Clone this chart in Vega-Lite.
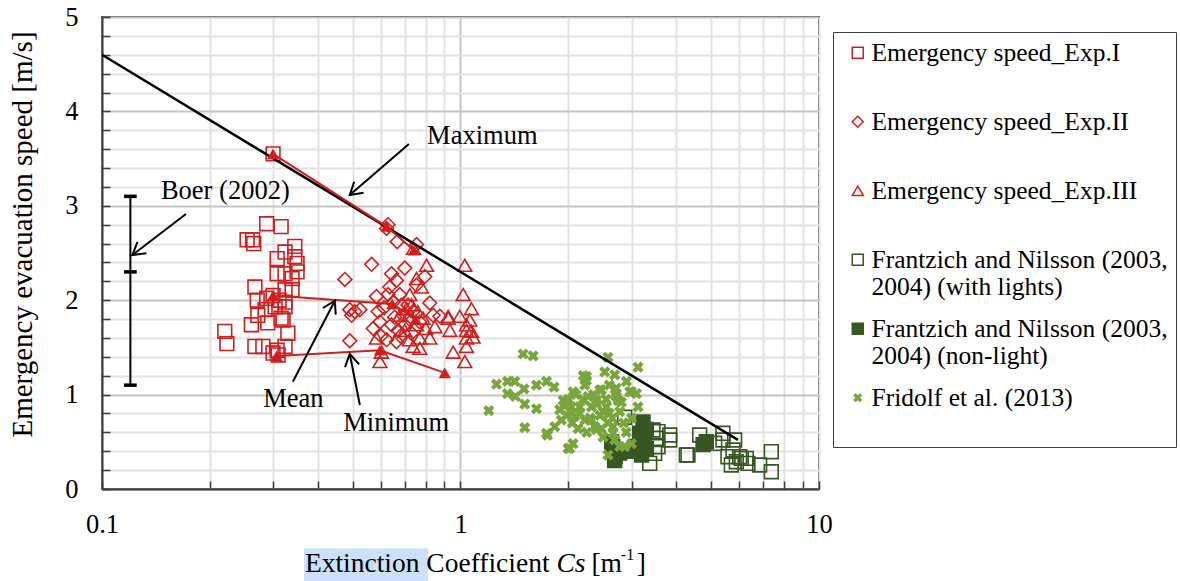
{
  "$schema": "https://vega.github.io/schema/vega-lite/v6.json",
  "width": 717,
  "height": 472,
  "autosize": {"type": "none"},
  "padding": {"left": 102, "top": 17, "right": 361, "bottom": 92},
  "background": "white",
  "config": {
    "font": "Liberation Serif",
    "view": {"stroke": "#3c3c3c", "strokeWidth": 2},
    "text": {"font": "Liberation Serif", "color": "black"}
  },
  "datasets": {
    "obs": [
      {"series": "Emergency speed_Exp.I", "cs": 0.288, "v": 2.81},
      {"series": "Emergency speed_Exp.I", "cs": 0.316, "v": 2.78},
      {"series": "Emergency speed_Exp.I", "cs": 0.254, "v": 2.64},
      {"series": "Emergency speed_Exp.I", "cs": 0.263, "v": 2.64},
      {"series": "Emergency speed_Exp.I", "cs": 0.265, "v": 2.60},
      {"series": "Emergency speed_Exp.I", "cs": 0.345, "v": 2.57},
      {"series": "Emergency speed_Exp.I", "cs": 0.324, "v": 2.51},
      {"series": "Emergency speed_Exp.I", "cs": 0.345, "v": 2.46},
      {"series": "Emergency speed_Exp.I", "cs": 0.308, "v": 2.44},
      {"series": "Emergency speed_Exp.I", "cs": 0.350, "v": 2.39},
      {"series": "Emergency speed_Exp.I", "cs": 0.350, "v": 2.30},
      {"series": "Emergency speed_Exp.I", "cs": 0.308, "v": 2.28},
      {"series": "Emergency speed_Exp.I", "cs": 0.324, "v": 2.28},
      {"series": "Emergency speed_Exp.I", "cs": 0.339, "v": 2.23},
      {"series": "Emergency speed_Exp.I", "cs": 0.267, "v": 2.14},
      {"series": "Emergency speed_Exp.I", "cs": 0.339, "v": 2.11},
      {"series": "Emergency speed_Exp.I", "cs": 0.324, "v": 2.11},
      {"series": "Emergency speed_Exp.I", "cs": 0.271, "v": 2.00},
      {"series": "Emergency speed_Exp.I", "cs": 0.288, "v": 2.02},
      {"series": "Emergency speed_Exp.I", "cs": 0.324, "v": 1.98},
      {"series": "Emergency speed_Exp.I", "cs": 0.304, "v": 1.93},
      {"series": "Emergency speed_Exp.I", "cs": 0.324, "v": 1.93},
      {"series": "Emergency speed_Exp.I", "cs": 0.285, "v": 1.90},
      {"series": "Emergency speed_Exp.I", "cs": 0.272, "v": 1.84},
      {"series": "Emergency speed_Exp.I", "cs": 0.316, "v": 1.81},
      {"series": "Emergency speed_Exp.I", "cs": 0.320, "v": 1.79},
      {"series": "Emergency speed_Exp.I", "cs": 0.290, "v": 1.76},
      {"series": "Emergency speed_Exp.I", "cs": 0.261, "v": 1.74},
      {"series": "Emergency speed_Exp.I", "cs": 0.220, "v": 1.67},
      {"series": "Emergency speed_Exp.I", "cs": 0.223, "v": 1.54},
      {"series": "Emergency speed_Exp.I", "cs": 0.330, "v": 1.65},
      {"series": "Emergency speed_Exp.I", "cs": 0.267, "v": 1.51},
      {"series": "Emergency speed_Exp.I", "cs": 0.281, "v": 1.51},
      {"series": "Emergency speed_Exp.I", "cs": 0.308, "v": 1.47},
      {"series": "Emergency speed_Exp.I", "cs": 0.324, "v": 1.51},
      {"series": "Emergency speed_Exp.I", "cs": 0.300, "v": 3.55},
      {"series": "Emergency speed_Exp.I", "cs": 0.310, "v": 1.42},
      {"series": "Emergency speed_Exp.I", "cs": 0.300, "v": 1.44},
      {"series": "Emergency speed_Exp.I", "cs": 0.300, "v": 2.05},
      {"series": "Emergency speed_Exp.I", "cs": 0.312, "v": 2.00},
      {"series": "Emergency speed_Exp.II", "cs": 0.628, "v": 2.80},
      {"series": "Emergency speed_Exp.II", "cs": 0.622, "v": 2.76},
      {"series": "Emergency speed_Exp.II", "cs": 0.666, "v": 2.62},
      {"series": "Emergency speed_Exp.II", "cs": 0.754, "v": 2.59},
      {"series": "Emergency speed_Exp.II", "cs": 0.565, "v": 2.38},
      {"series": "Emergency speed_Exp.II", "cs": 0.476, "v": 2.22},
      {"series": "Emergency speed_Exp.II", "cs": 0.642, "v": 2.28},
      {"series": "Emergency speed_Exp.II", "cs": 0.699, "v": 2.34},
      {"series": "Emergency speed_Exp.II", "cs": 0.663, "v": 2.21},
      {"series": "Emergency speed_Exp.II", "cs": 0.635, "v": 2.14},
      {"series": "Emergency speed_Exp.II", "cs": 0.795, "v": 2.25},
      {"series": "Emergency speed_Exp.II", "cs": 0.754, "v": 2.16},
      {"series": "Emergency speed_Exp.II", "cs": 0.677, "v": 2.06},
      {"series": "Emergency speed_Exp.II", "cs": 0.583, "v": 2.04},
      {"series": "Emergency speed_Exp.II", "cs": 0.628, "v": 2.06},
      {"series": "Emergency speed_Exp.II", "cs": 0.491, "v": 1.90},
      {"series": "Emergency speed_Exp.II", "cs": 0.507, "v": 1.88},
      {"series": "Emergency speed_Exp.II", "cs": 0.524, "v": 1.90},
      {"series": "Emergency speed_Exp.II", "cs": 0.497, "v": 1.84},
      {"series": "Emergency speed_Exp.II", "cs": 0.821, "v": 1.97},
      {"series": "Emergency speed_Exp.II", "cs": 0.589, "v": 1.88},
      {"series": "Emergency speed_Exp.II", "cs": 0.571, "v": 1.70},
      {"series": "Emergency speed_Exp.II", "cs": 0.642, "v": 1.74},
      {"series": "Emergency speed_Exp.II", "cs": 0.670, "v": 1.68},
      {"series": "Emergency speed_Exp.II", "cs": 0.491, "v": 1.57},
      {"series": "Emergency speed_Exp.II", "cs": 0.622, "v": 1.58},
      {"series": "Emergency speed_Exp.II", "cs": 0.663, "v": 1.56},
      {"series": "Emergency speed_Exp.II", "cs": 0.596, "v": 1.77},
      {"series": "Emergency speed_Exp.II", "cs": 0.692, "v": 1.84},
      {"series": "Emergency speed_Exp.II", "cs": 0.738, "v": 1.88},
      {"series": "Emergency speed_Exp.II", "cs": 0.770, "v": 1.77},
      {"series": "Emergency speed_Exp.II", "cs": 0.699, "v": 1.74},
      {"series": "Emergency speed_Exp.II", "cs": 0.730, "v": 1.65},
      {"series": "Emergency speed_Exp.II", "cs": 0.649, "v": 1.98},
      {"series": "Emergency speed_Exp.II", "cs": 0.714, "v": 1.95},
      {"series": "Emergency speed_Exp.II", "cs": 0.839, "v": 1.84},
      {"series": "Emergency speed_Exp.II", "cs": 0.876, "v": 1.83},
      {"series": "Emergency speed_Exp.II", "cs": 0.612, "v": 1.92},
      {"series": "Emergency speed_Exp.II", "cs": 0.655, "v": 1.82},
      {"series": "Emergency speed_Exp.II", "cs": 0.685, "v": 1.95},
      {"series": "Emergency speed_Exp.II", "cs": 0.720, "v": 1.80},
      {"series": "Emergency speed_Exp.II", "cs": 0.600, "v": 1.62},
      {"series": "Emergency speed_Exp.II", "cs": 0.680, "v": 1.62},
      {"series": "Emergency speed_Exp.III", "cs": 0.804, "v": 2.37},
      {"series": "Emergency speed_Exp.III", "cs": 1.028, "v": 2.37},
      {"series": "Emergency speed_Exp.III", "cs": 0.754, "v": 2.23},
      {"series": "Emergency speed_Exp.III", "cs": 0.778, "v": 2.14},
      {"series": "Emergency speed_Exp.III", "cs": 0.722, "v": 2.06},
      {"series": "Emergency speed_Exp.III", "cs": 1.017, "v": 2.06},
      {"series": "Emergency speed_Exp.III", "cs": 1.073, "v": 1.91},
      {"series": "Emergency speed_Exp.III", "cs": 0.924, "v": 1.83},
      {"series": "Emergency speed_Exp.III", "cs": 0.995, "v": 1.83},
      {"series": "Emergency speed_Exp.III", "cs": 1.039, "v": 1.74},
      {"series": "Emergency speed_Exp.III", "cs": 1.073, "v": 1.67},
      {"series": "Emergency speed_Exp.III", "cs": 0.934, "v": 1.68},
      {"series": "Emergency speed_Exp.III", "cs": 1.039, "v": 1.60},
      {"series": "Emergency speed_Exp.III", "cs": 0.848, "v": 1.72},
      {"series": "Emergency speed_Exp.III", "cs": 0.770, "v": 1.60},
      {"series": "Emergency speed_Exp.III", "cs": 0.821, "v": 1.60},
      {"series": "Emergency speed_Exp.III", "cs": 0.738, "v": 1.51},
      {"series": "Emergency speed_Exp.III", "cs": 0.770, "v": 1.49},
      {"series": "Emergency speed_Exp.III", "cs": 0.583, "v": 1.60},
      {"series": "Emergency speed_Exp.III", "cs": 0.602, "v": 1.45},
      {"series": "Emergency speed_Exp.III", "cs": 0.596, "v": 1.35},
      {"series": "Emergency speed_Exp.III", "cs": 0.954, "v": 1.45},
      {"series": "Emergency speed_Exp.III", "cs": 1.028, "v": 1.35},
      {"series": "Emergency speed_Exp.III", "cs": 1.039, "v": 1.51},
      {"series": "Emergency speed_Exp.III", "cs": 0.699, "v": 1.68},
      {"series": "Emergency speed_Exp.III", "cs": 0.677, "v": 1.84},
      {"series": "Emergency speed_Exp.III", "cs": 0.707, "v": 1.91},
      {"series": "Emergency speed_Exp.III", "cs": 0.786, "v": 1.81},
      {"series": "Emergency speed_Exp.III", "cs": 0.754, "v": 1.74},
      {"series": "Emergency speed_Exp.III", "cs": 1.061, "v": 1.79},
      {"series": "Emergency speed_Exp.III", "cs": 1.084, "v": 1.61},
      {"series": "Emergency speed_Exp.III", "cs": 1.039, "v": 1.68},
      {"series": "Emergency speed_Exp.III", "cs": 0.924, "v": 1.81},
      {"series": "Emergency speed_Exp.III", "cs": 0.740, "v": 2.55},
      {"series": "Emergency speed_Exp.III", "cs": 0.730, "v": 1.95},
      {"series": "Emergency speed_Exp.III", "cs": 0.760, "v": 1.88},
      {"series": "Emergency speed_Exp.III", "cs": 0.800, "v": 1.70},
      {"series": "Emergency speed_Exp.III", "cs": 0.720, "v": 1.58},
      {"series": "Frantzich and Nilsson (2003,|2004) (with lights)", "cs": 2.871, "v": 0.76},
      {"series": "Frantzich and Nilsson (2003,|2004) (with lights)", "cs": 3.443, "v": 0.625},
      {"series": "Frantzich and Nilsson (2003,|2004) (with lights)", "cs": 3.555, "v": 0.607},
      {"series": "Frantzich and Nilsson (2003,|2004) (with lights)", "cs": 3.833, "v": 0.572},
      {"series": "Frantzich and Nilsson (2003,|2004) (with lights)", "cs": 3.833, "v": 0.519},
      {"series": "Frantzich and Nilsson (2003,|2004) (with lights)", "cs": 3.555, "v": 0.448},
      {"series": "Frantzich and Nilsson (2003,|2004) (with lights)", "cs": 3.480, "v": 0.378},
      {"series": "Frantzich and Nilsson (2003,|2004) (with lights)", "cs": 3.371, "v": 0.272},
      {"series": "Frantzich and Nilsson (2003,|2004) (with lights)", "cs": 4.310, "v": 0.360},
      {"series": "Frantzich and Nilsson (2003,|2004) (with lights)", "cs": 4.647, "v": 0.572},
      {"series": "Frantzich and Nilsson (2003,|2004) (with lights)", "cs": 5.396, "v": 0.590},
      {"series": "Frantzich and Nilsson (2003,|2004) (with lights)", "cs": 5.396, "v": 0.519},
      {"series": "Frantzich and Nilsson (2003,|2004) (with lights)", "cs": 5.817, "v": 0.519},
      {"series": "Frantzich and Nilsson (2003,|2004) (with lights)", "cs": 5.117, "v": 0.484},
      {"series": "Frantzich and Nilsson (2003,|2004) (with lights)", "cs": 5.754, "v": 0.413},
      {"series": "Frantzich and Nilsson (2003,|2004) (with lights)", "cs": 6.006, "v": 0.342},
      {"series": "Frantzich and Nilsson (2003,|2004) (with lights)", "cs": 6.270, "v": 0.325},
      {"series": "Frantzich and Nilsson (2003,|2004) (with lights)", "cs": 5.880, "v": 0.289},
      {"series": "Frantzich and Nilsson (2003,|2004) (with lights)", "cs": 5.695, "v": 0.254},
      {"series": "Frantzich and Nilsson (2003,|2004) (with lights)", "cs": 6.830, "v": 0.254},
      {"series": "Frantzich and Nilsson (2003,|2004) (with lights)", "cs": 7.362, "v": 0.395},
      {"series": "Frantzich and Nilsson (2003,|2004) (with lights)", "cs": 7.362, "v": 0.183},
      {"series": "Frantzich and Nilsson (2003,|2004) (with lights)", "cs": 6.335, "v": 0.272},
      {"series": "Frantzich and Nilsson (2003,|2004) (with lights)", "cs": 5.572, "v": 0.342},
      {"series": "Frantzich and Nilsson (2003,|2004) (with lights)", "cs": 3.519, "v": 0.537},
      {"series": "Frantzich and Nilsson (2003,|2004) (with lights)", "cs": 6.072, "v": 0.325},
      {"series": "Frantzich and Nilsson (2003,|2004) (with lights)", "cs": 4.266, "v": 0.360},
      {"series": "Frantzich and Nilsson (2003,|2004) (non-light)", "cs": 2.66, "v": 0.45},
      {"series": "Frantzich and Nilsson (2003,|2004) (non-light)", "cs": 2.70, "v": 0.34},
      {"series": "Frantzich and Nilsson (2003,|2004) (non-light)", "cs": 2.78, "v": 0.38},
      {"series": "Frantzich and Nilsson (2003,|2004) (non-light)", "cs": 2.64, "v": 0.50},
      {"series": "Frantzich and Nilsson (2003,|2004) (non-light)", "cs": 3.16, "v": 0.59},
      {"series": "Frantzich and Nilsson (2003,|2004) (non-light)", "cs": 3.23, "v": 0.71},
      {"series": "Frantzich and Nilsson (2003,|2004) (non-light)", "cs": 3.30, "v": 0.63},
      {"series": "Frantzich and Nilsson (2003,|2004) (non-light)", "cs": 3.23, "v": 0.52},
      {"series": "Frantzich and Nilsson (2003,|2004) (non-light)", "cs": 3.30, "v": 0.43},
      {"series": "Frantzich and Nilsson (2003,|2004) (non-light)", "cs": 3.10, "v": 0.45},
      {"series": "Frantzich and Nilsson (2003,|2004) (non-light)", "cs": 3.20, "v": 0.36},
      {"series": "Frantzich and Nilsson (2003,|2004) (non-light)", "cs": 4.85, "v": 0.50},
      {"series": "Frantzich and Nilsson (2003,|2004) (non-light)", "cs": 4.75, "v": 0.47},
      {"series": "Frantzich and Nilsson (2003,|2004) (non-light)", "cs": 2.69, "v": 0.30},
      {"series": "Frantzich and Nilsson (2003,|2004) (non-light)", "cs": 2.90, "v": 0.40},
      {"series": "Fridolf et al. (2013)", "cs": 1.495, "v": 1.43},
      {"series": "Fridolf et al. (2013)", "cs": 1.594, "v": 1.41},
      {"series": "Fridolf et al. (2013)", "cs": 1.260, "v": 1.11},
      {"series": "Fridolf et al. (2013)", "cs": 1.352, "v": 1.14},
      {"series": "Fridolf et al. (2013)", "cs": 1.417, "v": 1.14},
      {"series": "Fridolf et al. (2013)", "cs": 1.504, "v": 1.06},
      {"series": "Fridolf et al. (2013)", "cs": 1.352, "v": 1.01},
      {"series": "Fridolf et al. (2013)", "cs": 1.423, "v": 0.98},
      {"series": "Fridolf et al. (2013)", "cs": 1.629, "v": 1.10},
      {"series": "Fridolf et al. (2013)", "cs": 1.737, "v": 1.14},
      {"series": "Fridolf et al. (2013)", "cs": 1.824, "v": 1.08},
      {"series": "Fridolf et al. (2013)", "cs": 1.511, "v": 0.90},
      {"series": "Fridolf et al. (2013)", "cs": 1.629, "v": 0.85},
      {"series": "Fridolf et al. (2013)", "cs": 1.199, "v": 0.83},
      {"series": "Fridolf et al. (2013)", "cs": 1.511, "v": 0.65},
      {"series": "Fridolf et al. (2013)", "cs": 1.748, "v": 0.57},
      {"series": "Fridolf et al. (2013)", "cs": 2.017, "v": 0.43},
      {"series": "Fridolf et al. (2013)", "cs": 2.060, "v": 1.03},
      {"series": "Fridolf et al. (2013)", "cs": 1.932, "v": 0.94},
      {"series": "Fridolf et al. (2013)", "cs": 1.891, "v": 0.84},
      {"series": "Fridolf et al. (2013)", "cs": 1.912, "v": 0.73},
      {"series": "Fridolf et al. (2013)", "cs": 2.039, "v": 0.87},
      {"series": "Fridolf et al. (2013)", "cs": 2.083, "v": 0.77},
      {"series": "Fridolf et al. (2013)", "cs": 1.832, "v": 0.66},
      {"series": "Fridolf et al. (2013)", "cs": 2.246, "v": 1.15},
      {"series": "Fridolf et al. (2013)", "cs": 2.269, "v": 0.98},
      {"series": "Fridolf et al. (2013)", "cs": 2.319, "v": 0.87},
      {"series": "Fridolf et al. (2013)", "cs": 2.472, "v": 1.05},
      {"series": "Fridolf et al. (2013)", "cs": 2.525, "v": 1.24},
      {"series": "Fridolf et al. (2013)", "cs": 2.222, "v": 0.73},
      {"series": "Fridolf et al. (2013)", "cs": 2.368, "v": 0.66},
      {"series": "Fridolf et al. (2013)", "cs": 2.497, "v": 0.82},
      {"series": "Fridolf et al. (2013)", "cs": 2.127, "v": 0.64},
      {"series": "Fridolf et al. (2013)", "cs": 2.579, "v": 0.70},
      {"series": "Fridolf et al. (2013)", "cs": 2.579, "v": 1.395},
      {"series": "Fridolf et al. (2013)", "cs": 2.693, "v": 1.21},
      {"series": "Fridolf et al. (2013)", "cs": 3.127, "v": 1.29},
      {"series": "Fridolf et al. (2013)", "cs": 2.903, "v": 1.14},
      {"series": "Fridolf et al. (2013)", "cs": 2.965, "v": 1.03},
      {"series": "Fridolf et al. (2013)", "cs": 3.095, "v": 1.01},
      {"series": "Fridolf et al. (2013)", "cs": 2.445, "v": 1.05},
      {"series": "Fridolf et al. (2013)", "cs": 2.246, "v": 1.19},
      {"series": "Fridolf et al. (2013)", "cs": 2.222, "v": 1.10},
      {"series": "Fridolf et al. (2013)", "cs": 2.394, "v": 0.94},
      {"series": "Fridolf et al. (2013)", "cs": 2.553, "v": 0.87},
      {"series": "Fridolf et al. (2013)", "cs": 2.722, "v": 0.98},
      {"series": "Fridolf et al. (2013)", "cs": 2.811, "v": 0.92},
      {"series": "Fridolf et al. (2013)", "cs": 1.975, "v": 0.92},
      {"series": "Fridolf et al. (2013)", "cs": 2.039, "v": 0.80},
      {"series": "Fridolf et al. (2013)", "cs": 2.150, "v": 0.87},
      {"series": "Fridolf et al. (2013)", "cs": 2.319, "v": 0.73},
      {"series": "Fridolf et al. (2013)", "cs": 2.394, "v": 0.63},
      {"series": "Fridolf et al. (2013)", "cs": 2.663, "v": 0.59},
      {"series": "Fridolf et al. (2013)", "cs": 1.737, "v": 0.59},
      {"series": "Fridolf et al. (2013)", "cs": 2.060, "v": 0.48},
      {"series": "Fridolf et al. (2013)", "cs": 1.995, "v": 0.43},
      {"series": "Fridolf et al. (2013)", "cs": 2.579, "v": 0.36},
      {"series": "Fridolf et al. (2013)", "cs": 2.780, "v": 0.45},
      {"series": "Fridolf et al. (2013)", "cs": 2.998, "v": 0.48},
      {"series": "Fridolf et al. (2013)", "cs": 2.722, "v": 1.07},
      {"series": "Fridolf et al. (2013)", "cs": 2.998, "v": 1.03},
      {"series": "Fridolf et al. (2013)", "cs": 3.127, "v": 0.87},
      {"series": "Fridolf et al. (2013)", "cs": 2.750, "v": 0.94},
      {"series": "Fridolf et al. (2013)", "cs": 2.780, "v": 0.82},
      {"series": "Fridolf et al. (2013)", "cs": 2.472, "v": 0.64},
      {"series": "Fridolf et al. (2013)", "cs": 2.663, "v": 0.66},
      {"series": "Fridolf et al. (2013)", "cs": 2.693, "v": 0.52},
      {"series": "Fridolf et al. (2013)", "cs": 2.871, "v": 0.45},
      {"series": "Fridolf et al. (2013)", "cs": 2.10, "v": 1.00},
      {"series": "Fridolf et al. (2013)", "cs": 2.20, "v": 0.95},
      {"series": "Fridolf et al. (2013)", "cs": 2.15, "v": 0.80},
      {"series": "Fridolf et al. (2013)", "cs": 2.30, "v": 0.75},
      {"series": "Fridolf et al. (2013)", "cs": 2.40, "v": 0.90},
      {"series": "Fridolf et al. (2013)", "cs": 2.45, "v": 0.78},
      {"series": "Fridolf et al. (2013)", "cs": 2.60, "v": 0.80},
      {"series": "Fridolf et al. (2013)", "cs": 2.35, "v": 1.00},
      {"series": "Fridolf et al. (2013)", "cs": 1.95, "v": 0.88},
      {"series": "Fridolf et al. (2013)", "cs": 2.00, "v": 0.95},
      {"series": "Fridolf et al. (2013)", "cs": 2.25, "v": 0.60},
      {"series": "Fridolf et al. (2013)", "cs": 2.50, "v": 0.55},
      {"series": "Fridolf et al. (2013)", "cs": 2.85, "v": 0.70},
      {"series": "Fridolf et al. (2013)", "cs": 2.90, "v": 0.60},
      {"series": "Fridolf et al. (2013)", "cs": 3.00, "v": 0.75},
      {"series": "Fridolf et al. (2013)", "cs": 2.20, "v": 1.20},
      {"series": "Fridolf et al. (2013)", "cs": 2.60, "v": 1.10},
      {"series": "Fridolf et al. (2013)", "cs": 2.70, "v": 1.00},
      {"series": "Fridolf et al. (2013)", "cs": 2.05, "v": 0.70},
      {"series": "Fridolf et al. (2013)", "cs": 1.98, "v": 0.78},
      {"series": "Fridolf et al. (2013)", "cs": 2.55, "v": 0.95},
      {"series": "Fridolf et al. (2013)", "cs": 2.65, "v": 0.75}
    ],
    "trend": [
      {"cs": 0.1, "v": 4.6},
      {"cs": 5.94, "v": 0.52}
    ],
    "summary": [
      {"stat": "Maximum", "cs": 0.300, "v": 3.55},
      {"stat": "Maximum", "cs": 0.622, "v": 2.78},
      {"stat": "Maximum", "cs": 0.741, "v": 2.53},
      {"stat": "Mean", "cs": 0.300, "v": 2.05},
      {"stat": "Mean", "cs": 0.645, "v": 1.96},
      {"stat": "Mean", "cs": 0.750, "v": 1.80},
      {"stat": "Minimum", "cs": 0.307, "v": 1.41},
      {"stat": "Minimum", "cs": 0.596, "v": 1.47},
      {"stat": "Minimum", "cs": 0.904, "v": 1.23}
    ],
    "boer": [
      {"stat": "Maximum", "cs": 0.12, "v": 3.1},
      {"stat": "Mean", "cs": 0.12, "v": 2.3},
      {"stat": "Minimum", "cs": 0.12, "v": 1.1}
    ],
    "arrows": [
      {"name": "Maximum", "cs": 0.718, "v": 3.655, "cs2": 0.491, "v2": 3.114},
      {"name": "Boer (2002)", "cs": 0.1715, "v": 2.913, "cs2": 0.1216, "v2": 2.479},
      {"name": "Mean", "cs": 0.3407, "v": 1.137, "cs2": 0.4462, "v2": 1.995},
      {"name": "Minimum", "cs": 0.5239, "v": 0.89, "cs2": 0.491, "v2": 1.43}
    ],
    "notes": [
      {"name": "Maximum", "cs": 0.807, "v": 3.74},
      {"name": "Boer (2002)", "cs": 0.146, "v": 3.157},
      {"name": "Mean", "cs": 0.2817, "v": 0.953},
      {"name": "Minimum", "cs": 0.4708, "v": 0.696}
    ]
  },
  "layer": [
    {
      "data": {"name": "obs"},
      "mark": {"type": "point", "size": 190, "strokeWidth": 1.6, "opacity": 1},
      "encoding": {
        "x": {
          "field": "cs",
          "type": "quantitative",
          "scale": {"type": "log", "domain": [0.1, 10], "nice": false},
          "axis": {
            "title": null,
            "values": [0.1, 0.2, 0.3, 0.4, 0.5, 0.6, 0.7, 0.8, 0.9, 1, 2, 3, 4, 5, 6, 7, 8, 9, 10],
            "tickCount": 100,
            "format": "~g",
            "labelExpr": "datum.value == 0.1 || datum.value == 1 || datum.value == 10 ? datum.label : ''",
            "labelOverlap": false,
            "labelFlush": false,
            "labelFont": "Liberation Serif",
            "labelFontSize": 26.5,
            "labelColor": "black",
            "labelBaseline": "top",
            "labelPadding": 30.5,
            "tickSize": -8,
            "tickColor": "#3c3c3c",
            "tickWidth": 1.5,
            "domainColor": "#3c3c3c",
            "domainWidth": 2,
            "grid": true,
            "gridColor": {"condition": {"test": "datum.value == 1", "value": "#c4c4c4"}, "value": "#e2e2e2"},
            "gridWidth": 2
          }
        },
        "y": {
          "field": "v",
          "type": "quantitative",
          "scale": {"domain": [0, 5], "nice": false, "zero": false},
          "axis": {
            "title": "Emergency evacuation speed [m/s]",
            "titleFont": "Liberation Serif",
            "titleFontSize": 29,
            "titleFontWeight": "normal",
            "titleColor": "black",
            "titleAngle": -90,
            "titleAlign": "center",
            "titleBaseline": "middle",
            "titleX": -80,
            "titleY": 217,
            "values": [0, 0.2, 0.4, 0.6, 0.8, 1, 1.2, 1.4, 1.6, 1.8, 2, 2.2, 2.4, 2.6, 2.8, 3, 3.2, 3.4, 3.6, 3.8, 4, 4.2, 4.4, 4.6, 4.8, 5],
            "tickCount": 100,
            "format": "~g",
            "labelExpr": "datum.value % 1 == 0 ? datum.label : ''",
            "labelOverlap": false,
            "labelFlush": false,
            "labelFont": "Liberation Serif",
            "labelFontSize": 26.5,
            "labelColor": "black",
            "labelAlign": "right",
            "labelPadding": 32,
            "tickSize": -8,
            "tickColor": "#3c3c3c",
            "tickWidth": 1.5,
            "domainColor": "#3c3c3c",
            "domainWidth": 2,
            "grid": true,
            "gridColor": {"condition": {"test": "datum.value % 1 == 0", "value": "#c4c4c4"}, "value": "#e2e2e2"},
            "gridWidth": 2
          }
        },
        "shape": {
          "field": "series",
          "type": "nominal",
          "scale": {
            "domain": ["Emergency speed_Exp.I", "Emergency speed_Exp.II", "Emergency speed_Exp.III", "Frantzich and Nilsson (2003,|2004) (with lights)", "Frantzich and Nilsson (2003,|2004) (non-light)", "Fridolf et al. (2013)"],
            "range": ["square", "diamond", "triangle-up", "square", "square", "M-0.65,-0.39L-0.39,-0.65L0,-0.26L0.39,-0.65L0.65,-0.39L0.26,0L0.65,0.39L0.39,0.65L0,0.26L-0.39,0.65L-0.65,0.39L-0.26,0Z"]
          },
          "legend": {
            "title": " ",
            "titleOrient": "bottom",
            "titleFontSize": 20,
            "titlePadding": 8,
            "orient": "none",
            "legendX": 731,
            "legendY": 15,
            "padding": 8,
            "strokeColor": "#3c3c3c",
            "fillColor": "white",
            "labelFont": "Liberation Serif",
            "labelFontSize": 25.5,
            "labelColor": "black",
            "labelLimit": 400,
            "labelBaseline": "middle",
            "labelExpr": "split(datum.label, '|')",
            "labelOffset": 1,
            "symbolOffset": 4,
            "symbolSize": 120,
            "symbolStrokeWidth": 1.5,
            "rowPadding": 15,
            "gridAlign": "all",
            "encode": {"labels": {"update": {"lineHeight": {"value": 30}}}}
          }
        },
        "stroke": {
          "field": "series",
          "type": "nominal",
          "scale": {
            "domain": ["Emergency speed_Exp.I", "Emergency speed_Exp.II", "Emergency speed_Exp.III", "Frantzich and Nilsson (2003,|2004) (with lights)", "Frantzich and Nilsson (2003,|2004) (non-light)", "Fridolf et al. (2013)"],
            "range": ["#d01e1e", "#d01e1e", "#d01e1e", "#375623", "#375623", "#78a63c"]
          }
        },
        "fill": {
          "field": "series",
          "type": "nominal",
          "scale": {
            "domain": ["Emergency speed_Exp.I", "Emergency speed_Exp.II", "Emergency speed_Exp.III", "Frantzich and Nilsson (2003,|2004) (with lights)", "Frantzich and Nilsson (2003,|2004) (non-light)", "Fridolf et al. (2013)"],
            "range": ["transparent", "transparent", "transparent", "transparent", "#375623", "#78a63c"]
          }
        }
      }
    },
    {
      "data": {"name": "trend"},
      "mark": {"type": "line", "color": "black", "strokeWidth": 2.5},
      "encoding": {
        "x": {"field": "cs", "type": "quantitative", "scale": {"type": "log", "domain": [0.1, 10], "nice": false}},
        "y": {"field": "v", "type": "quantitative", "scale": {"domain": [0, 5], "nice": false, "zero": false}}
      }
    },
    {
      "data": {"name": "summary"},
      "mark": {"type": "line", "color": "#d01e1e", "strokeWidth": 2},
      "encoding": {
        "x": {"field": "cs", "type": "quantitative", "scale": {"type": "log", "domain": [0.1, 10], "nice": false}},
        "y": {"field": "v", "type": "quantitative", "scale": {"domain": [0, 5], "nice": false, "zero": false}},
        "detail": {"field": "stat"}
      }
    },
    {
      "data": {"name": "summary"},
      "mark": {"type": "point", "shape": "triangle-up", "filled": true, "color": "#d01e1e", "size": 150, "opacity": 1},
      "encoding": {
        "x": {"field": "cs", "type": "quantitative", "scale": {"type": "log", "domain": [0.1, 10], "nice": false}},
        "y": {"field": "v", "type": "quantitative", "scale": {"domain": [0, 5], "nice": false, "zero": false}}
      }
    },
    {
      "data": {"name": "boer"},
      "mark": {"type": "rule", "color": "black", "strokeWidth": 2},
      "encoding": {
        "x": {"field": "cs", "type": "quantitative", "aggregate": "min", "scale": {"type": "log", "domain": [0.1, 10], "nice": false}},
        "y": {"aggregate": "min", "field": "v", "type": "quantitative", "scale": {"domain": [0, 5], "nice": false, "zero": false}},
        "y2": {"aggregate": "max", "field": "v"}
      }
    },
    {
      "data": {"name": "boer"},
      "mark": {"type": "point", "shape": "stroke", "size": 160, "strokeWidth": 3.5, "color": "black", "opacity": 1},
      "encoding": {
        "x": {"field": "cs", "type": "quantitative", "scale": {"type": "log", "domain": [0.1, 10], "nice": false}},
        "y": {"field": "v", "type": "quantitative", "scale": {"domain": [0, 5], "nice": false, "zero": false}}
      }
    },
    {
      "data": {"name": "arrows"},
      "mark": {"type": "rule", "color": "black", "strokeWidth": 2},
      "encoding": {
        "x": {"field": "cs", "type": "quantitative", "scale": {"type": "log", "domain": [0.1, 10], "nice": false}},
        "y": {"field": "v", "type": "quantitative", "scale": {"domain": [0, 5], "nice": false, "zero": false}},
        "x2": {"field": "cs2"},
        "y2": {"field": "v2"}
      }
    },
    {
      "data": {"name": "arrows"},
      "mark": {"type": "point", "shape": "M-1,-0.6L0,0L-1,0.6", "size": 576, "filled": false, "color": "black", "strokeWidth": 2, "opacity": 1},
      "encoding": {
        "x": {"field": "cs2", "type": "quantitative", "scale": {"type": "log", "domain": [0.1, 10], "nice": false}},
        "y": {"field": "v2", "type": "quantitative", "scale": {"domain": [0, 5], "nice": false, "zero": false}},
        "angle": {
          "condition": [
            {"test": "datum.name === 'Maximum'", "value": 139.6},
            {"test": "datum.name === 'Boer (2002)'", "value": 142.3},
            {"test": "datum.name === 'Mean'", "value": 297.4}
          ],
          "value": 258.9
        }
      }
    },
    {
      "data": {"name": "notes"},
      "mark": {"type": "text", "align": "left", "baseline": "middle", "font": "Liberation Serif", "fontSize": 26.5, "color": "black"},
      "encoding": {
        "x": {"field": "cs", "type": "quantitative", "scale": {"type": "log", "domain": [0.1, 10], "nice": false}},
        "y": {"field": "v", "type": "quantitative", "scale": {"domain": [0, 5], "nice": false, "zero": false}},
        "text": {"field": "name"}
      }
    },
    {
      "data": {"values": [{"cs": 0.3658, "cs2": 0.8123, "v": -0.628, "v2": -0.99}]},
      "mark": {"type": "rect", "color": "#cce0fa"},
      "encoding": {
        "x": {"field": "cs", "type": "quantitative", "scale": {"type": "log", "domain": [0.1, 10], "nice": false}},
        "x2": {"field": "cs2"},
        "y": {"field": "v", "type": "quantitative", "scale": {"domain": [0, 5], "nice": false, "zero": false}},
        "y2": {"field": "v2"}
      }
    },
    {
      "data": {"values": [{"cs": 0.3681, "v": -0.879}]},
      "mark": {"type": "text", "text": "Extinction Coefficient", "align": "left", "baseline": "alphabetic", "font": "Liberation Serif", "fontSize": 27.5, "color": "black"},
      "encoding": {
        "x": {"field": "cs", "type": "quantitative", "scale": {"type": "log", "domain": [0.1, 10], "nice": false}},
        "y": {"field": "v", "type": "quantitative", "scale": {"domain": [0, 5], "nice": false, "zero": false}}
      }
    },
    {
      "data": {"values": [{"cs": 1.852, "v": -0.879}]},
      "mark": {"type": "text", "text": "Cs", "align": "left", "baseline": "alphabetic", "font": "Liberation Serif", "fontStyle": "italic", "fontSize": 27.5, "color": "black"},
      "encoding": {
        "x": {"field": "cs", "type": "quantitative", "scale": {"type": "log", "domain": [0.1, 10], "nice": false}},
        "y": {"field": "v", "type": "quantitative", "scale": {"domain": [0, 5], "nice": false, "zero": false}}
      }
    },
    {
      "data": {"values": [{"cs": 2.319, "v": -0.879}]},
      "mark": {"type": "text", "text": "[m", "align": "left", "baseline": "alphabetic", "font": "Liberation Serif", "fontSize": 27.5, "color": "black"},
      "encoding": {
        "x": {"field": "cs", "type": "quantitative", "scale": {"type": "log", "domain": [0.1, 10], "nice": false}},
        "y": {"field": "v", "type": "quantitative", "scale": {"domain": [0, 5], "nice": false, "zero": false}}
      }
    },
    {
      "data": {"values": [{"cs": 2.80, "v": -0.752}]},
      "mark": {"type": "text", "text": "-1", "align": "left", "baseline": "alphabetic", "font": "Liberation Serif", "fontSize": 16, "color": "black"},
      "encoding": {
        "x": {"field": "cs", "type": "quantitative", "scale": {"type": "log", "domain": [0.1, 10], "nice": false}},
        "y": {"field": "v", "type": "quantitative", "scale": {"domain": [0, 5], "nice": false, "zero": false}}
      }
    },
    {
      "data": {"values": [{"cs": 3.10, "v": -0.879}]},
      "mark": {"type": "text", "text": "]", "align": "left", "baseline": "alphabetic", "font": "Liberation Serif", "fontSize": 27.5, "color": "black"},
      "encoding": {
        "x": {"field": "cs", "type": "quantitative", "scale": {"type": "log", "domain": [0.1, 10], "nice": false}},
        "y": {"field": "v", "type": "quantitative", "scale": {"domain": [0, 5], "nice": false, "zero": false}}
      }
    }
  ]
}
